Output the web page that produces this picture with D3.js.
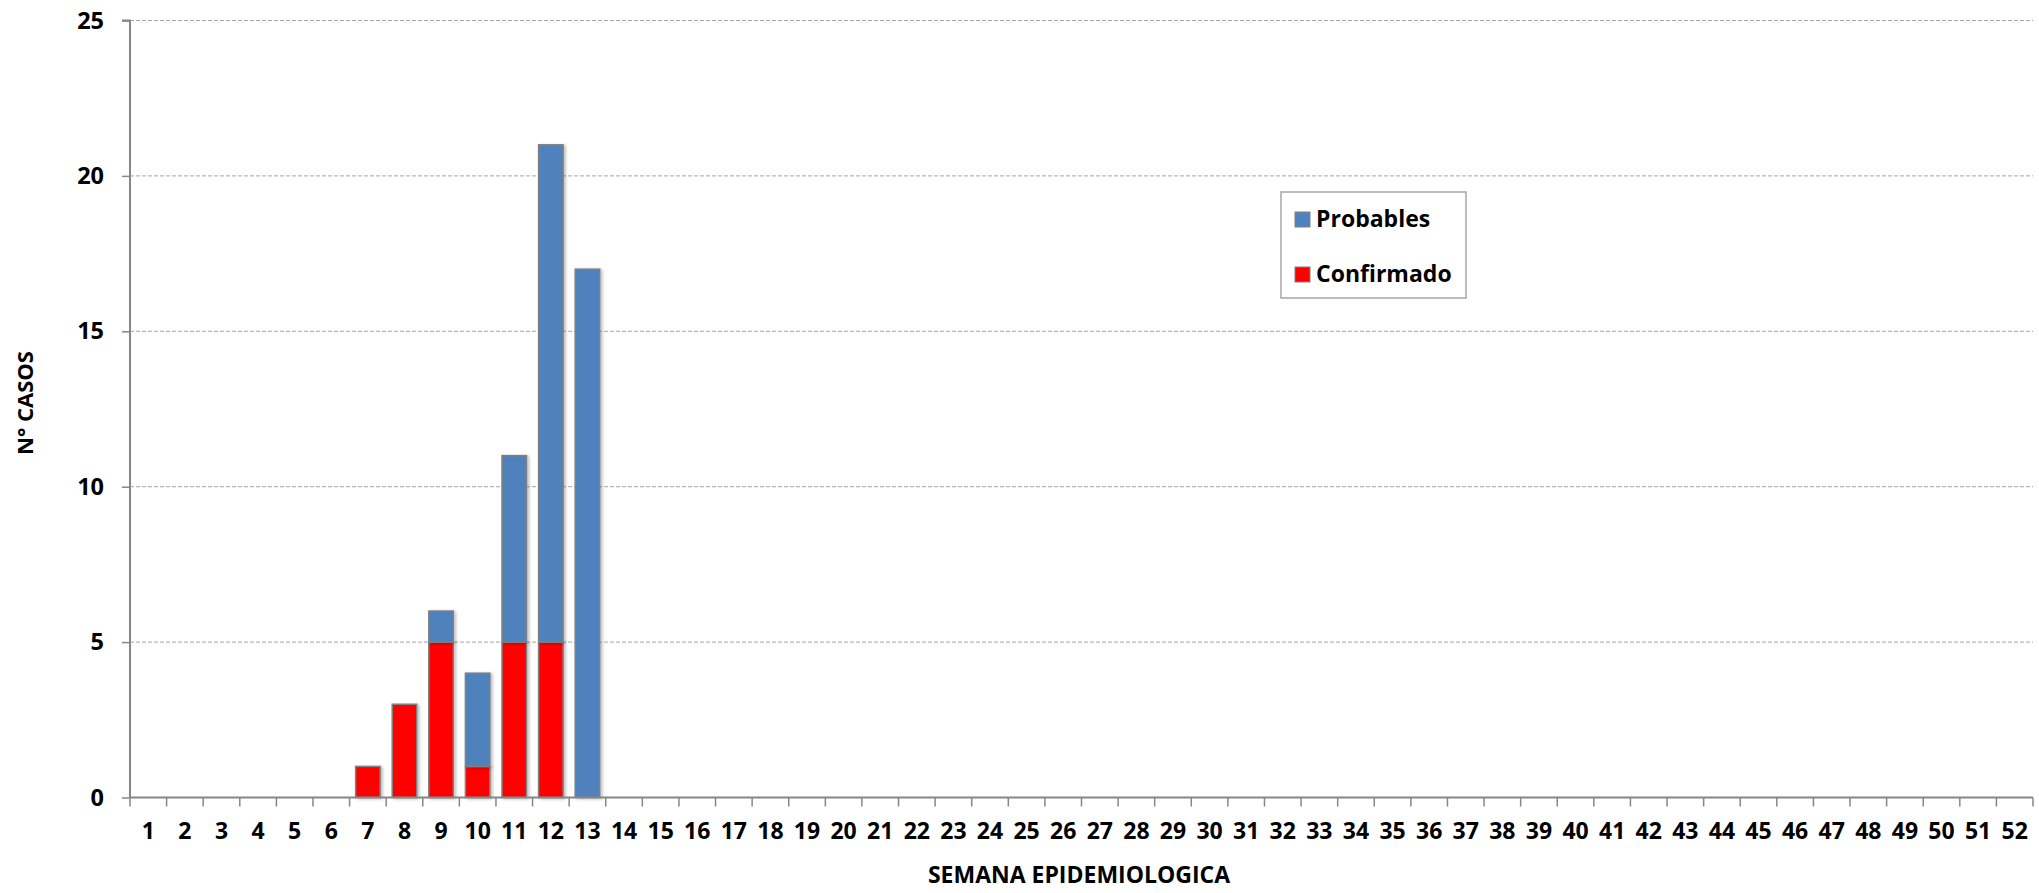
<!DOCTYPE html>
<html><head><meta charset="utf-8">
<script src="https://cdn.jsdelivr.net/npm/d3@7"></script>
<style>html,body{margin:0;padding:0;background:#fff;}</style>
</head><body>
<svg id="c" width="2039" height="893"></svg>
<script>
const weeks = d3.range(1, 53).map(String);
const confirmado = {"7":1,"8":3,"9":5,"10":1,"11":5,"12":5,"13":0};
const probables  = {"9":1,"10":3,"11":6,"12":16,"13":17};
const yTicks = [0,5,10,15,20,25];
const seriesNames = ["Confirmado","Probables"];
const colors = {Confirmado:"#ff0000", Probables:"#4f81bd"};

const rows = weeks.map(w => ({week:w, Confirmado: confirmado[w]||0, Probables: probables[w]||0}));
const stack = d3.stack().keys(seriesNames)(rows);

const svg = d3.select("#c");
const m = {l:130, r:2033, t:20.5, b:797.5};
const x = d3.scaleBand().domain(weeks).range([m.l, m.r]).paddingInner(0.33).paddingOuter(0.165);
const y = d3.scaleLinear().domain([0,25]).range([m.b, m.t]);
const font = "'Open Sans', Lato, sans-serif";

const defs = svg.append("defs");
const f = defs.append("filter").attr("id","sh").attr("x","-20%").attr("y","-20%").attr("width","150%").attr("height","150%");
f.append("feDropShadow").attr("dx",2).attr("dy",1).attr("stdDeviation",1.5).attr("flood-color","#000").attr("flood-opacity",0.25);

// gridlines
svg.append("g").selectAll("line").data(yTicks.filter(d=>d>0)).join("line")
  .attr("x1", m.l).attr("x2", m.r).attr("y1", d=>y(d)).attr("y2", d=>y(d))
  .attr("stroke","#a6a6a6").attr("stroke-width",1).attr("stroke-dasharray","4,2");

// bars
svg.append("g").selectAll("g").data(stack).join("g")
  .attr("fill", d=>colors[d.key])
  .selectAll("rect").data(d=>d.filter(s=>s[1]-s[0]>0)).join("rect")
  .attr("x", d=>x(d.data.week)).attr("width", x.bandwidth())
  .attr("y", d=>y(d[1])).attr("height", d=>y(d[0])-y(d[1]))
  .attr("stroke","#808080").attr("stroke-width",1.5)
  .attr("filter","url(#sh)");

// y axis
const ya = svg.append("g").attr("transform",`translate(${m.l},0)`)
  .call(d3.axisLeft(y).tickValues(yTicks).tickSize(8).tickPadding(18));
ya.select(".domain").attr("stroke","#868686").attr("stroke-width",2).attr("d",`M-8,${m.t}H0V${m.b}`);
ya.selectAll(".tick line").attr("stroke","#868686").attr("stroke-width",1.5);
ya.selectAll(".tick text").attr("font-family",font).attr("font-weight","bold").attr("font-size",23.5).attr("fill","#000");

// x axis
const xa = svg.append("g").attr("transform",`translate(0,${m.b})`)
  .call(d3.axisBottom(x).tickSize(0).tickPadding(25));
xa.select(".domain").attr("stroke","#868686").attr("stroke-width",2).attr("d",`M${m.l},0H${m.r}`);
xa.selectAll(".tick text").attr("font-family",font).attr("font-weight","bold").attr("font-size",23).attr("fill","#000");
const bounds = weeks.map((w,i)=> m.l + i*(m.r-m.l)/52).concat([m.r]);
xa.append("g").selectAll("line").data(bounds).join("line")
  .attr("x1",d=>d).attr("x2",d=>d).attr("y1",0).attr("y2",9)
  .attr("stroke","#868686").attr("stroke-width",1.5);

// axis titles
svg.append("text").attr("x",1079).attr("y",883).attr("text-anchor","middle")
  .attr("font-family",font).attr("font-weight","bold").attr("font-size",23).text("SEMANA EPIDEMIOLOGICA");
svg.append("text").attr("transform","translate(33,403) rotate(-90)").attr("text-anchor","middle")
  .attr("font-family",font).attr("font-weight","bold").attr("font-size",22).text("N° CASOS");

// legend
const lg = svg.append("g");
lg.append("rect").attr("x",1281).attr("y",192).attr("width",185).attr("height",106)
  .attr("fill","#fff").attr("stroke","#a6a6a6").attr("stroke-width",1.5);
const legendItems = ["Probables","Confirmado"];
legendItems.forEach((k,i)=>{
  const cy = 219 + i*55;
  lg.append("rect").attr("x",1295).attr("y",cy-7).attr("width",15).attr("height",15)
    .attr("fill",colors[k]).attr("stroke","#808080").attr("stroke-width",1);
  lg.append("text").attr("x",1316).attr("y",cy+8).attr("font-family",font).attr("font-weight","bold")
    .attr("font-size",23).text(k);
});
</script>
</body></html>
